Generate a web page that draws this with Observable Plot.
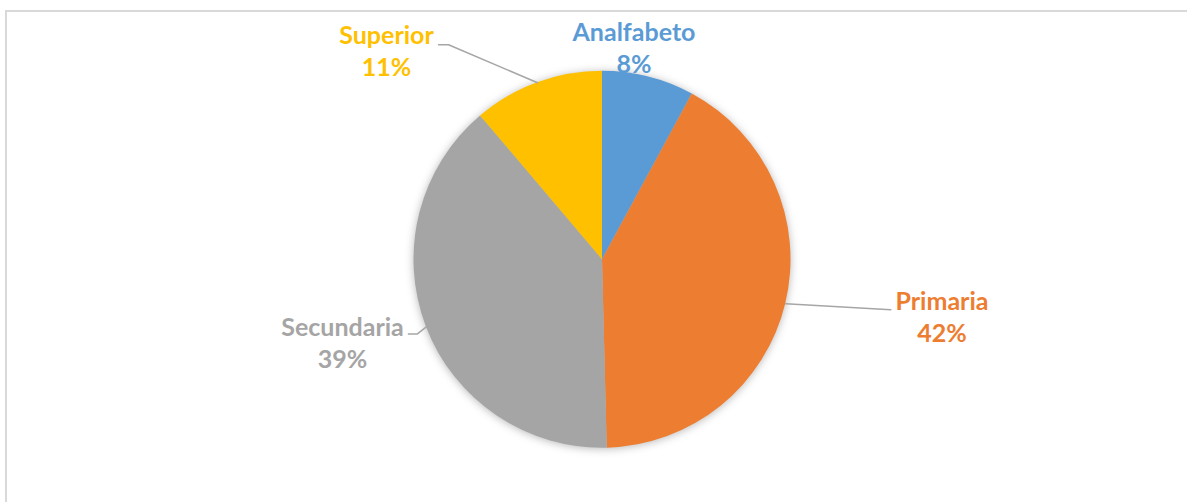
<!DOCTYPE html>
<html><head><meta charset="utf-8">
<script src="https://cdn.jsdelivr.net/npm/d3@7"></script>
<script src="https://cdn.jsdelivr.net/npm/@observablehq/plot@0.6"></script>
<style>
html,body{margin:0;padding:0;background:#fff;overflow:hidden;width:1187px;height:502px}
#frame{position:absolute;left:5px;top:10px;width:1300px;height:600px;border:2px solid #d9d9d9;box-sizing:border-box}
#chart{position:absolute;left:0;top:0}
</style></head><body>
<div id="frame"></div><div id="chart"></div>
<script>
// ---- data ----
const categories = ["Analfabeto", "Primaria", "Secundaria", "Superior"];
const shares = [7.9, 41.7, 39.2, 11.2];
const percentLabels = ["8%", "42%", "39%", "11%"];
const palette = ["#5B9BD5", "#ED7D31", "#A5A5A5", "#FFC000"];

// ---- layout (pixels) ----
const W = 1187, H = 502, CX = 602, CY = 259.2, R = 188.5;
const FONT = "Lato, 'Open Sans', sans-serif";
const labelOffset = {Analfabeto: [-14.8, -3.8], Primaria: [156.2, 38.5], Secundaria: [-83.9, 40.9], Superior: [-151, -6.6]};
const leaderPath = {Primaria: [[0, 0], [105, 6]], Secundaria: [[0, 0], [-9, 7], [-18, 7]], Superior: [[0, 0], [-89, -38], [-99, -38]]};

const total = d3.sum(shares);
let acc = 0;
const slices = categories.map((c, i) => {
  const a0 = acc / total * 2 * Math.PI; acc += shares[i];
  const a1 = acc / total * 2 * Math.PI; const mid = (a0 + a1) / 2;
  return {category: c, share: shares[i], pct: percentLabels[i], a0, a1, ex: Math.sin(mid), ey: Math.cos(mid)};
});
const leaders = slices.flatMap(d => (leaderPath[d.category] || []).map(([ox, oy]) => ({category: d.category, x: d.ex + ox / R, y: d.ey - oy / R})));

function pieMark(index, scales) {
  const cx = scales.x(0), cy = scales.y(0), r = scales.x(1) - scales.x(0);
  const arc = d3.arc().innerRadius(0).outerRadius(r);
  const g = d3.create("svg:g").attr("transform", `translate(${cx},${cy})`)
    .style("filter", "drop-shadow(0px 1px 4px rgba(0,0,0,0.28))");
  g.selectAll("path").data(slices).join("path")
    .attr("d", d => arc({startAngle: d.a0, endAngle: d.a1}))
    .attr("fill", d => scales.color ? scales.color(d.category) : palette[categories.indexOf(d.category)]);
  return g.node();
}

const chart = Plot.plot({
  width: W, height: H, margin: 0,
  x: {domain: [-CX / R, (W - CX) / R], range: [0, W], axis: null},
  y: {domain: [CY / R, (CY - H) / R], range: [0, H], axis: null},
  color: {domain: categories, range: palette},
  style: {background: "transparent", overflow: "visible"},
  marks: [
    pieMark,
    Plot.line(leaders, {x: "x", y: "y", z: "category", stroke: "#a6a6a6", strokeWidth: 1.5}),
    Plot.text(slices, {
      x: d => d.ex + labelOffset[d.category][0] / R,
      y: d => d.ey - labelOffset[d.category][1] / R,
      text: d => d.category + "\n" + d.pct,
      fill: "category", lineAnchor: "bottom", lineHeight: 32 / 25,
      fontSize: 25, fontWeight: "bold", fontFamily: FONT
    })
  ]
});
document.getElementById("chart").appendChild(chart);
</script>
</body></html>
